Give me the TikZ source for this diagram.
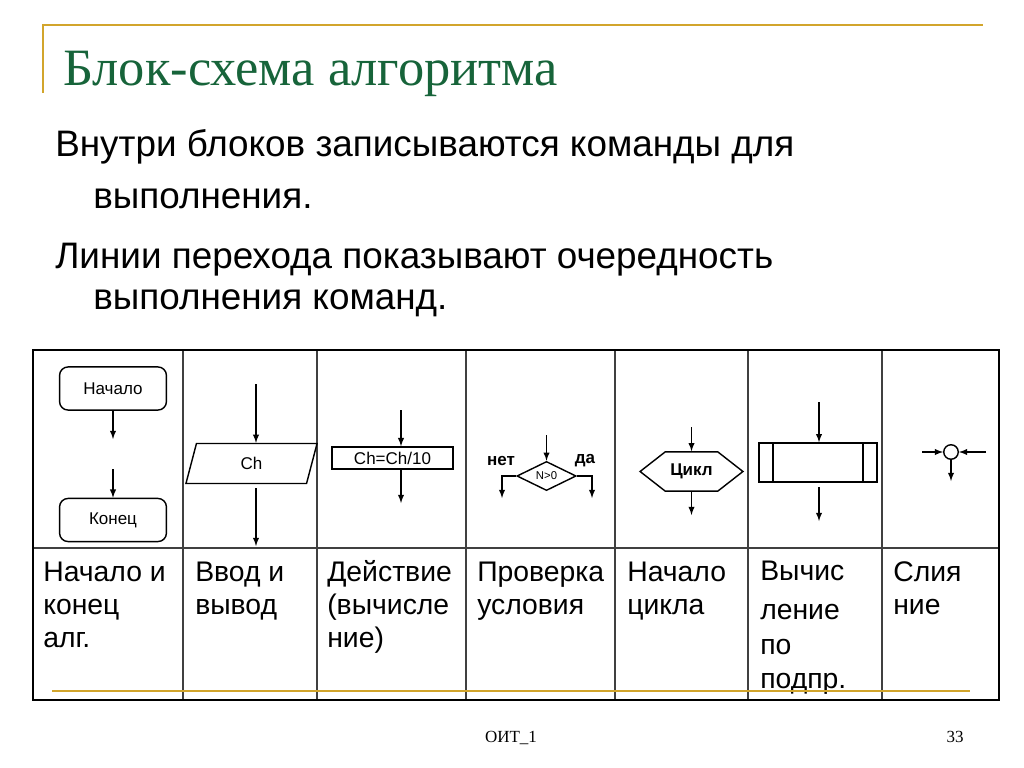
\documentclass[tikz,border=0pt]{standalone}
\usepackage{fontspec}
\setmainfont{Liberation Serif}
\newfontfamily\arialfont{Liberation Sans}
\usepackage{tikz}
\usetikzlibrary{arrows}
\usetikzlibrary{shapes,positioning,calc}
\definecolor{titlegreen}{HTML}{17643A}
\definecolor{slidegold}{HTML}{D2A52C}

\begin{document}
\begin{tikzpicture}[>=latex, x=0.0248cm, y=-0.0248cm,
		blk/.style={draw, line width=1pt, inner sep=0pt, font=\arialfont\fontsize{12}{14}\selectfont},
		flow/.style={->, line width=1pt},
		bodytext/.style={anchor=base west, inner sep=0pt, font=\arialfont\fontsize{26}{30}\selectfont},
		celltext/.style={anchor=base west, align=left, inner sep=0pt, font=\arialfont\fontsize{20}{23.2}\selectfont}]
		\useasboundingbox[fill=white] (0,0) rectangle (1024,768);
		% rama slajda
		\draw[slidegold, line width=1.4pt] (43,93) -- (43,25) -- (983,25);
		\node[anchor=base west, inner sep=0pt, text=titlegreen, font=\fontsize{37}{40}\selectfont] (title) at (63,86) {Блок-схема алгоритма};
		\node[bodytext] (l1) at (55,156) {Внутри блоков записываются команды для};
		\node[bodytext] (l2) at (93,208) {выполнения.};
		\node[bodytext] (l3) at (55,268) {Линии перехода показывают очередность};
		\node[bodytext] (l4) at (93,309) {выполнения команд.};
		
		% tablica
		\foreach \x in {183,317,466,615,748,882}
			\draw[line width=1pt, black!75] (\x,350) -- (\x,700);
		\draw[line width=1pt, black!75] (33,548) -- (999,548);
		\draw[line width=2pt] (33,350) rectangle (999,700);
		
		% nachalo i konec
		\node[blk, rounded corners=6pt, minimum width=2.65cm, minimum height=1.07cm] (beg) at (113,388.5) {Начало};
		\node[blk, rounded corners=6pt, minimum width=2.65cm, minimum height=1.07cm] (fin) at (113,520) {Конец};
		\coordinate (begout) at (113,439);
		\coordinate (finin) at (113,469);
		\draw[flow] (beg) -- (begout);
		\draw[flow] (finin) -- (fin);
		
		% vvod i vyvod
		\node[blk, trapezium, trapezium left angle=50, trapezium right angle=130, trapezium stretches body, minimum width=3.25cm, minimum height=0.99cm] (io) at (251.5,463.5) {Ch};
		\coordinate (ioin) at (256,384);
		\coordinate (ioout) at (256,546);
		\draw[flow] (ioin) -- (ioin |- io.north);
		\draw[flow] ([yshift=-3pt]io.south -| ioout) -- (ioout);
		
		% dejstvie
		\node[blk, minimum width=3cm, minimum height=0.55cm] (act) at (392.5,458) {Ch=Ch/10};
		\coordinate (actin) at (401,410);
		\coordinate (actout) at (401,503);
		\draw[flow] (actin) -- (actin |- act.north);
		\draw[flow] (act.south -| actout) -- (actout);
		
		% proverka uslovija
		\node[blk, diamond, minimum width=1.47cm, minimum height=0.7cm, font=\arialfont\fontsize{8}{9}\selectfont] (cond) at (546.5,476) {N>0};
		\coordinate (condin) at (546.5,435);
		\coordinate (no) at (502,498);
		\coordinate (yes) at (592,498);
		\draw[flow] (condin) -- (cond.north);
		\draw[flow] (cond.west) -- (cond.west -| no) -- (no);
		\draw[flow] (cond.east) -- (cond.east -| yes) -- (yes);
		\node[font=\arialfont\bfseries\fontsize{12}{14}\selectfont, inner sep=0pt] (nolbl) at (501,461) {нет};
		\node[font=\arialfont\bfseries\fontsize{12}{14}\selectfont, inner sep=0pt] (yeslbl) at (585,461) {да};
		
		% nachalo cikla
		\node[blk, signal, signal to=east and west, signal pointer angle=76, minimum width=2.55cm, minimum height=0.97cm, font=\arialfont\bfseries\fontsize{12}{14}\selectfont] (loop) at (691.5,471.5) {Цикл};
		\coordinate (loopin) at (691.5,427);
		\coordinate (loopout) at (691.5,515);
		\draw[flow] (loopin) -- (loop.north);
		\draw[flow] (loop.south) -- (loopout);
		
		% podprogramma
		\node[blk, minimum width=2.93cm, minimum height=0.97cm] (sub) at (818,462.5) {};
		\draw[line width=1pt] ([xshift=0.37cm]sub.north west) -- ([xshift=0.37cm]sub.south west);
		\draw[line width=1pt] ([xshift=-0.37cm]sub.north east) -- ([xshift=-0.37cm]sub.south east);
		\coordinate (subin) at (819,402);
		\coordinate (subout) at (819,521);
		\draw[flow] (subin) -- (subin |- sub.north);
		\draw[flow] ([yshift=-3pt]sub.south -| subout) -- (subout);
		
		% slijanie
		\node[blk, circle, minimum size=0.36cm] (merge) at (951,452) {};
		\coordinate (mleft) at (922,452);
		\coordinate (mright) at (986,452);
		\coordinate (mdown) at (951,481);
		\draw[flow] (mleft) -- (merge.west);
		\draw[flow] (mright) -- (merge.east);
		\draw[flow] (merge.south) -- (mdown);
		
		% podpisi (base = poslednjaja stroka)
		\node[celltext] (t1) at (43,647) {Начало и\\конец\\алг.};
		\node[celltext] (t2) at (195,614) {Ввод и\\вывод};
		\node[celltext] (t3) at (327,647) {Действие\\(вычисле\\ние)};
		\node[celltext] (t4) at (477,614) {Проверка\\условия};
		\node[celltext] (t5) at (627,614) {Начало\\цикла};
		\node[celltext] (t6) at (760,688) {Вычис\\[4pt]ление\\[1.5pt]по\\[0.5pt]подпр.};
		\node[celltext] (t7) at (893,614) {Слия\\ние};
		
		\draw[slidegold, line width=2pt] (52,691) -- (970,691);
		
		% nizhnij kolontitul
		\node[anchor=base, inner sep=0pt, font=\fontsize{12}{14}\selectfont] (foot) at (511,742) {ОИТ\_1};
		\node[anchor=base, inner sep=0pt, font=\fontsize{12}{14}\selectfont] (page) at (955,742) {33};
		\end{tikzpicture}
\end{document}
